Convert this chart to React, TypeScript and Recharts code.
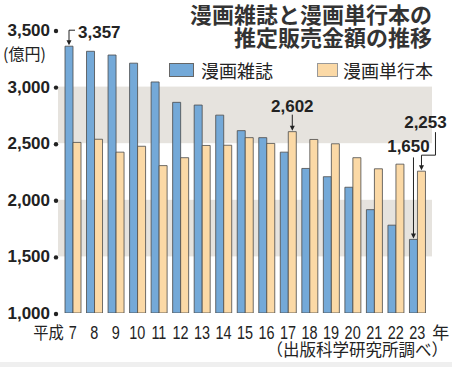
import React from "react";
import { Bar, BarChart, LabelList, ReferenceArea, XAxis, YAxis } from "recharts";

// 年度（平成）
const years = ["7", "8", "9", "10", "11", "12", "13", "14", "15", "16", "17", "18", "19", "20", "21", "22", "23"];
// 漫画雑誌（億円）
const magazine = [3357, 3312, 3279, 3207, 3041, 2861, 2837, 2748, 2611, 2549, 2421, 2277, 2204, 2111, 1913, 1776, 1650];
// 漫画単行本（億円）
const tankobon = [2507, 2535, 2421, 2473, 2302, 2372, 2480, 2482, 2549, 2498, 2602, 2533, 2495, 2372, 2274, 2315, 2253];
const yTicks = [1000, 1500, 2000, 2500, 3000, 3500];
const bands = [
  [2500, 3000],
  [1500, 2000],
];

const data = years.map((y, i) => ({ year: y, magazine: magazine[i], tankobon: tankobon[i] }));

const BLUE = "#74a9d8";
const ORANGE = "#fbd9a6";
const INK = "#222";
const CJK = "'Noto Sans CJK JP', 'Noto Sans', sans-serif";
const NUM = "'Liberation Sans', Arial, sans-serif";

const fmt = (v: number) => v.toLocaleString("en-US");

function YTick({ x, y, payload }: any) {
  return (
    <g>
      <text x={x - 10} y={y} dy={6} textAnchor="end" fontSize={17} fontWeight={700} fill={INK} fontFamily={NUM}>
        {fmt(payload.value)}
      </text>
      <circle cx={x - 4} cy={y + 1} r={2.2} fill={INK} />
      {payload.value === 3500 && (
        <text x={3} y={y + 30} fontSize={16} fill={INK} fontFamily={CJK}>
          (億円)
        </text>
      )}
    </g>
  );
}

// condensed tick labels, like the newspaper's narrow figures
function XTick({ x, y, payload, index }: any) {
  return (
    <g>
      <text transform={`translate(${x},${y + 24}) scale(0.76,1)`} textAnchor="middle" fontSize={19} fill={INK} fontFamily={NUM}>
        {payload.value}
      </text>
      {index === 0 && (
        <text transform={`translate(${x - 9},${y + 24}) scale(0.9,1)`} textAnchor="end" fontSize={17} fill={INK} fontFamily={CJK}>
          平成
        </text>
      )}
      {index === years.length - 1 && (
        <text x={x + 15} y={y + 24} fontSize={17} fill={INK} fontFamily={CJK}>
          年
        </text>
      )}
    </g>
  );
}

const Arrow = ({ x, y }: { x: number; y: number }) => (
  <path d={`M${x - 2.5},${y - 5} L${x + 2.5},${y - 5} L${x},${y} Z`} fill={INK} />
);

const callText = (x: number, y: number, v: number, anchor = "middle") => (
  <text x={x} y={y} textAnchor={anchor} fontSize={17} fontWeight={700} fill={INK} fontFamily={NUM}>
    {fmt(v)}
  </text>
);

function MagLabel(props: any) {
  const { x, y, width, value, index } = props;
  const cx = x + width / 2;
  if (index === 0) {
    return (
      <g>
        <path d={`M${cx + 6},${y - 16} L${cx},${y - 16} L${cx},${y - 3}`} stroke={INK} fill="none" strokeWidth={1} />
        <Arrow x={cx} y={y - 1} />
        {callText(cx + 9, y - 8, value, "start")}
      </g>
    );
  }
  if (index === years.length - 1) {
    return (
      <g>
        <line x1={cx} x2={cx} y1={y - 82} y2={y - 4} stroke={INK} strokeWidth={1} />
        <Arrow x={cx} y={y - 1} />
        {callText(cx - 5, y - 87, value)}
      </g>
    );
  }
  return null;
}

function BookLabel(props: any) {
  const { x, y, width, value, index } = props;
  const cx = x + width / 2;
  if (index === 10) {
    return (
      <g>
        <line x1={cx} x2={cx} y1={y - 17} y2={y - 4} stroke={INK} strokeWidth={1} />
        <Arrow x={cx} y={y - 1} />
        {callText(cx, y - 20, value)}
      </g>
    );
  }
  if (index === years.length - 1) {
    return (
      <g>
        <path d={`M${cx + 14},${y - 39} L${cx + 14},${y - 16} L${cx},${y - 16} L${cx},${y - 4}`} stroke={INK} fill="none" strokeWidth={1} />
        <Arrow x={cx} y={y - 1} />
        {callText(cx + 4, y - 43, value)}
      </g>
    );
  }
  return null;
}

const Band = ({ x, y, width, height }: any) => <rect x={x - 4} y={y} width={width + 8} height={height} fill="#e6e3de" />;

export default function App() {
  return (
    <div style={{ position: "absolute", left: 0, top: 0, width: 452, height: 367, background: "#fff", overflow: "hidden" }}>
      <BarChart width={452} height={367} data={data} margin={{ top: 30, right: 24, bottom: 0, left: 0 }} barSize={8} barGap={0}>
        {bands.map(([a, b]) => (
          <ReferenceArea key={a} y1={a} y2={b} shape={Band} ifOverflow="visible" />
        ))}
        <XAxis dataKey="year" axisLine={false} tickLine={false} tickSize={0} height={54} interval={0} tick={<XTick />} />
        <YAxis
          domain={[1000, 3500]}
          ticks={yTicks}
          axisLine={false}
          tickLine={false}
          tickSize={0}
          width={62}
          allowDataOverflow
          tick={<YTick />}
        />
        <Bar dataKey="magazine" fill={BLUE} stroke="#4a4a4a" strokeWidth={0.8} isAnimationActive={false}>
          <LabelList dataKey="magazine" content={<MagLabel />} />
        </Bar>
        <Bar dataKey="tankobon" fill={ORANGE} stroke="#4a4a4a" strokeWidth={0.8} isAnimationActive={false}>
          <LabelList dataKey="tankobon" content={<BookLabel />} />
        </Bar>
      </BarChart>

      <div style={{ position: "absolute", right: 20, top: 2, textAlign: "right", fontFamily: CJK, fontWeight: 700, fontSize: 22, lineHeight: "23px", color: "#333", whiteSpace: "nowrap" }}>
        漫画雑誌と漫画単行本の
        <br />
        推定販売金額の推移
      </div>

      <div style={{ position: "absolute", left: 169, top: 57, display: "flex", alignItems: "center", fontFamily: CJK, fontSize: 18, color: INK, lineHeight: "26px" }}>
        <span style={{ display: "inline-block", width: 23, height: 12, background: BLUE, border: "1px solid #666", marginRight: 7 }} />
        <span>漫画雑誌</span>
        <span style={{ display: "inline-block", width: 19, height: 12, background: ORANGE, border: "1px solid #999", marginLeft: 44, marginRight: 5 }} />
        <span>漫画単行本</span>
      </div>

      <div style={{ position: "absolute", right: 4, top: 337, fontFamily: CJK, fontSize: 16.5, color: INK, lineHeight: "24px" }}>
        （出版科学研究所調べ）
      </div>
      <div style={{ position: "absolute", left: 0, right: 0, bottom: 0, height: 5, background: "#efefef" }} />
    </div>
  );
}
